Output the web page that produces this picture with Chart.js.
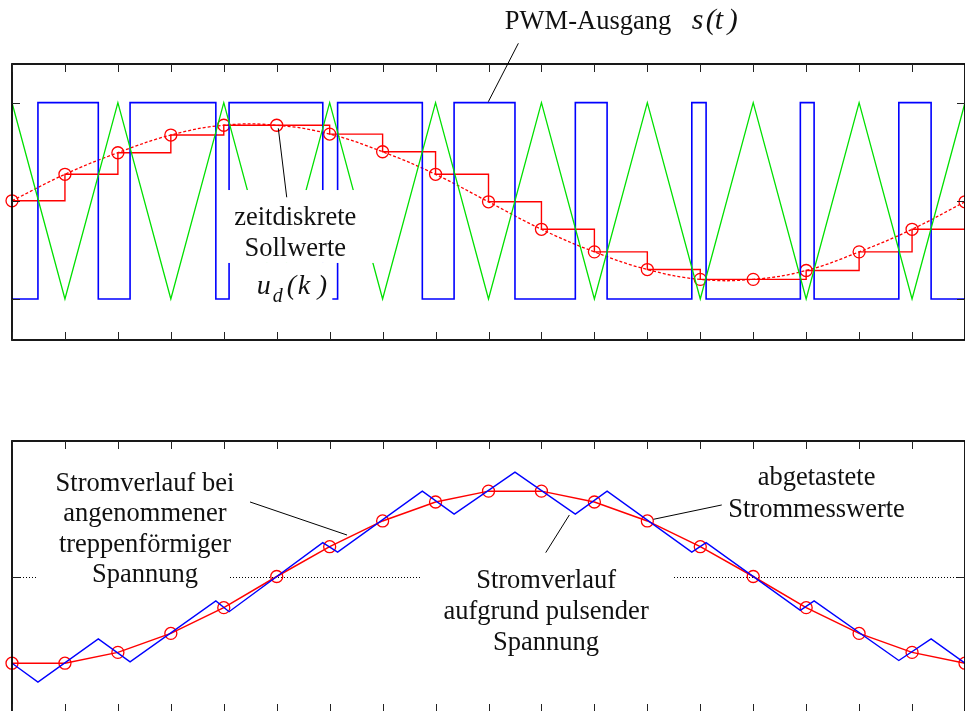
<!DOCTYPE html>
<html>
<head>
<meta charset="utf-8">
<script src="https://cdn.jsdelivr.net/npm/chart.js@4.4.1/dist/chart.umd.min.js"></script>
<style>
  html, body { margin: 0; padding: 0; background: #fff; overflow: hidden; }
  canvas { position: absolute; left: 0; }
  #top { top: 0; }
  #bottom { top: 400px; }
</style>
</head>
<body>
<canvas id="top" width="975" height="400"></canvas>
<canvas id="bottom" width="975" height="320"></canvas>
<script>
// sampling instants k
const samples = [0, 1, 2, 3, 4, 5, 6, 7, 8, 9, 10, 11, 12, 13, 14, 15, 16, 17, 18];
// discrete setpoints u_d(k)
const setpoints = [0.00, 0.27, 0.49, 0.67, 0.77, 0.77, 0.68, 0.50, 0.27, -0.01,
                   -0.29, -0.52, -0.70, -0.80, -0.80, -0.71, -0.52, -0.29, -0.01];
// triangular carrier, value at each k
const carrier = [1, -1, 1, -1, 1, -1, 1, -1, 1, -1, 1, -1, 1, -1, 1, -1, 1, -1, 1];
// PWM output s(t): switching instants and level after each switch
const pwmStart = -1;
const pwmEdges = [0.49, 1.63, 2.23, 3.85, 4.10, 5.87, 6.15, 7.75, 8.35, 9.50,
                  10.64, 11.24, 12.84, 13.11, 14.89, 15.15, 16.75, 17.36];
const pwmLevels = [1, -1, 1, -1, 1, -1, 1, -1, 1, -1, 1, -1, 1, -1, 1, -1, 1, -1];
// sampled current values
const sampledCurrent = [-0.64, -0.64, -0.56, -0.42, -0.23, 0.00, 0.22, 0.41, 0.55, 0.63,
                        0.63, 0.55, 0.41, 0.22, 0.00, -0.23, -0.42, -0.56, -0.64];
// current with pulsed voltage (corner points)
const currentTimes = [0, 0.49, 1.63, 2.23, 3.85, 4.10, 5.87, 6.15, 7.75, 8.35, 9.50,
                      10.64, 11.24, 12.84, 13.11, 14.89, 15.15, 16.75, 17.36, 18];
const currentValues = [-0.64, -0.78, -0.46, -0.63, -0.18, -0.26, 0.25, 0.18, 0.63, 0.46, 0.77,
                       0.46, 0.63, 0.18, 0.25, -0.25, -0.18, -0.62, -0.46, -0.64];

const RED = '#ff0000', BLUE = '#0000ff', GREEN = '#00e000';
const FONT = '"Liberation Serif", "Times New Roman", serif';

function pts(xs, ys) {
    return xs.map((x, i) => ({ x: x, y: ys[i] }));
}

const pwmPoints = [{ x: 0, y: pwmStart }]
    .concat(pts(pwmEdges, pwmLevels))
    .concat([{ x: 18, y: pwmLevels[pwmLevels.length - 1] }]);

const decor = {
    id: 'decor',
    beforeDatasetsDraw(chart, args, o) {
        if (!o.zeroDots) return;
        const { ctx, chartArea: a, scales: { y } } = chart;
        const py = Math.round(y.getPixelForValue(0)) + 0.5;
        ctx.save();
        ctx.setLineDash([1, 2]);
        ctx.strokeStyle = '#000';
        ctx.lineWidth = 1;
        ctx.beginPath();
        ctx.moveTo(a.left + 8, py);
        ctx.lineTo(a.right - 8, py);
        ctx.stroke();
        ctx.restore();
    },
    afterDatasetsDraw(chart, args, o) {
        const { ctx, chartArea: a, scales: { x, y } } = chart;
        ctx.save();
        // white backgrounds of the labels
        ctx.fillStyle = '#fff';
        o.boxes.forEach(b => {
            const x1 = x.getPixelForValue(b[0]), x2 = x.getPixelForValue(b[1]);
            const y1 = y.getPixelForValue(b[2]), y2 = y.getPixelForValue(b[3]);
            ctx.fillRect(x1, y1, x2 - x1, y2 - y1);
        });
        // leader lines
        ctx.strokeStyle = '#000';
        ctx.lineWidth = 1;
        o.leaders.forEach(l => {
            ctx.beginPath();
            ctx.moveTo(x.getPixelForValue(l[0]), y.getPixelForValue(l[1]));
            ctx.lineTo(x.getPixelForValue(l[2]), y.getPixelForValue(l[3]));
            ctx.stroke();
        });
        // labels
        ctx.fillStyle = '#111';
        ctx.textBaseline = 'alphabetic';
        o.texts.forEach(t => {
            const px = x.getPixelForValue(t.x), py = y.getPixelForValue(t.y);
            if (t.parts) {
                ctx.textAlign = 'left';
                t.parts.forEach(p => {
                    ctx.font = 'italic ' + p[3] + 'px ' + FONT;
                    ctx.fillText(p[0], px + p[1], py + p[2]);
                });
            } else {
                ctx.textAlign = 'center';
                ctx.font = t.size + 'px ' + FONT;
                t.lines.forEach((s, i) => ctx.fillText(s, px, py + i * t.lh));
            }
        });
        // frame
        ctx.strokeStyle = '#000';
        ctx.lineWidth = 1.8;
        ctx.strokeRect(a.left, a.top, a.right - a.left, a.bottom - a.top);
        // inward ticks
        ctx.lineWidth = 1;
        ctx.strokeStyle = '#222';
        ctx.beginPath();
        samples.forEach(k => {
            const px = Math.round(x.getPixelForValue(k)) + 0.5;
            ctx.moveTo(px, a.top); ctx.lineTo(px, a.top + 8);
            ctx.moveTo(px, a.bottom); ctx.lineTo(px, a.bottom - 8);
        });
        o.yTicks.forEach(v => {
            const py = Math.round(y.getPixelForValue(v)) + 0.5;
            ctx.moveTo(a.left, py); ctx.lineTo(a.left + 8, py);
            ctx.moveTo(a.right, py); ctx.lineTo(a.right - 8, py);
        });
        ctx.stroke();
        ctx.restore();
    }
};

function baseOptions(yMin, yMax, pad, deco) {
    return {
        responsive: false,
        animation: false,
        events: [],
        layout: { padding: pad },
        scales: {
            x: { type: 'linear', display: false, min: 0, max: 18 },
            y: { type: 'linear', display: false, min: yMin, max: yMax }
        },
        plugins: { legend: { display: false }, tooltip: { enabled: false }, decor: deco }
    };
}

new Chart(document.getElementById('top'), {
    type: 'scatter',
    data: {
        datasets: [
            { data: pts(samples, carrier), showLine: true, borderColor: GREEN, borderWidth: 1.3, pointRadius: 0 },
            { data: pwmPoints, showLine: true, stepped: true, borderColor: BLUE, borderWidth: 1.6, pointRadius: 0 },
            { data: pts(samples, setpoints), showLine: true, stepped: true, borderColor: RED, borderWidth: 1.4, pointRadius: 0 },
            { data: pts(samples, setpoints), showLine: true, tension: 0.4, borderColor: RED, borderWidth: 1.3,
              borderDash: [3, 2], pointRadius: 0 },
            { data: pts(samples, setpoints), showLine: false, clip: false, pointRadius: 6, pointBorderWidth: 1.3,
              pointBorderColor: RED, pointBackgroundColor: 'rgba(0,0,0,0)' }
        ]
    },
    options: baseOptions(-1.418, 1.394, { left: 12, right: 10, top: 64, bottom: 60 }, {
        zeroDots: false,
        yTicks: [-1, 0, 1],
        boxes: [[4.04, 6.86, 0.11, -0.633], [4.14, 6.05, -0.633, -1.03]],
        leaders: [[9.564, 1.605, 8.997, 1.010], [5.189, 0.036, 5.03, 0.739]],
        texts: [
            { x: 10.88, y: 1.751, size: 26.5, lh: 30, lines: ['PWM-Ausgang'] },
            { x: 12.84, y: 1.751, parts: [['s', 0, 0, 30], ['(', 14, 0, 30], ['t', 23, 0, 30], [')', 36, 0, 30]] },
            { x: 5.35, y: -0.246, size: 26.5, lh: 30.7, lines: ['zeitdiskrete', 'Sollwerte'] },
            { x: 4.622, y: -0.952, parts: [['u', 0, 0, 28], ['d', 16, 8, 20], ['(', 30, 0, 28], ['k', 41, 0, 28], [')', 61, 0, 28]] }
        ]
    }),
    plugins: [decor]
});

new Chart(document.getElementById('bottom'), {
    type: 'scatter',
    data: {
        datasets: [
            { data: pts(currentTimes, currentValues), showLine: true, borderColor: BLUE, borderWidth: 1.4, pointRadius: 0 },
            { data: pts(samples, sampledCurrent), showLine: true, clip: false, borderColor: RED, borderWidth: 1.5,
              pointRadius: 6, pointBorderWidth: 1.3, pointBorderColor: RED, pointBackgroundColor: 'rgba(0,0,0,0)' }
        ]
    },
    options: baseOptions(-1, 1, { left: 12, right: 10, top: 41, bottom: 8 }, {
        zeroDots: true,
        yTicks: [0],
        boxes: [[0.472, 4.099, 0.875, -0.114], [7.707, 12.467, 0.122, -0.616]],
        leaders: [[4.496, 0.550, 6.328, 0.306], [10.081, 0.176, 10.527, 0.454], [13.406, 0.528, 12.114, 0.422]],
        texts: [
            { x: 2.512, y: 0.631, size: 26.5, lh: 30.3, lines: ['Stromverlauf bei', 'angenommener', 'treppenförmiger', 'Spannung'] },
            { x: 10.087, y: -0.083, size: 26.5, lh: 31, lines: ['Stromverlauf', 'aufgrund pulsender', 'Spannung'] },
            { x: 15.196, y: 0.675, size: 26.5, lh: 31.7, lines: ['abgetastete', 'Strommesswerte'] }
        ]
    }),
    plugins: [decor]
});
</script>
</body>
</html>
